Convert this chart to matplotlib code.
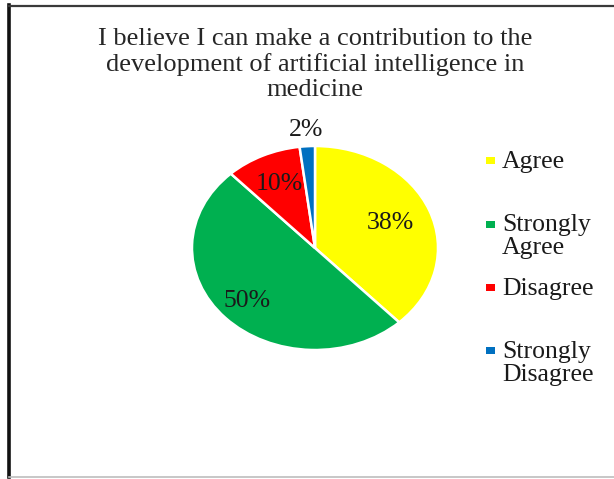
import matplotlib.pyplot as plt
import numpy as np
from matplotlib.lines import Line2D
from matplotlib.patches import Rectangle

# data
labels = ['Agree', 'Strongly\nAgree', 'Disagree', 'Strongly\nDisagree']
shares = [38, 50, 10, 2]
colors = ['#FFFF00', '#00B050', '#FF0000', '#0070C0']
# how far from the centre each percentage label sits (fraction of radius)
label_dist = [0.66, 0.76, 0.69, 1.16]

title = 'I believe I can make a contribution to the\ndevelopment of artificial intelligence in\nmedicine'

W, H = 614, 479
plt.rcParams['font.family'] = ['Liberation Serif', 'DejaVu Serif']
fig = plt.figure(figsize=(W / 100, H / 100), dpi=100)
fig.patch.set_facecolor('white')


def px(x, y):
    # pixel coords (from top-left) -> figure fraction
    return x / W, 1 - y / H


# frame around the chart
fig.add_artist(Line2D([8.5 / W, 8.5 / W], [1 - 5 / H, 1 - 477 / H], color='#111111', lw=2.6, transform=fig.transFigure))
fig.add_artist(Line2D([8.5 / W, 1], [1 - 6 / H, 1 - 6 / H], color='#3a3a3a', lw=1.6, transform=fig.transFigure))
fig.add_artist(Line2D([8.5 / W, 1], [1 - 477 / H, 1 - 477 / H], color='#bdbdbd', lw=1.2, transform=fig.transFigure))

# title
tx, ty = px(315, 28)
fig.text(tx, ty, title, ha='center', va='top', fontsize=19, color='#262626', linespacing=1.18)

# pie (stretched horizontally like the original)
cx, cy, rx, ry = 315, 248, 123, 102
ax = fig.add_axes([(cx - rx) / W, 1 - (cy + ry) / H, 2 * rx / W, 2 * ry / H])
wedges, _ = ax.pie(shares, colors=colors, startangle=90, counterclock=False,
                   wedgeprops=dict(edgecolor='white', linewidth=1.8))
ax.set_aspect('auto')
ax.set_xlim(-1, 1)
ax.set_ylim(-1, 1)
ax.axis('off')

for w, v, d in zip(wedges, shares, label_dist):
    ang = np.deg2rad((w.theta1 + w.theta2) / 2)
    ax.text(d * np.cos(ang), d * np.sin(ang), '%d%%' % v, ha='center', va='center',
            fontsize=18.5, color='#1a1a1a', clip_on=False)

# legend drawn entry by entry (Excel style, marker on first line)
for i, (lab, col) in enumerate(zip(labels, colors)):
    yc = 161 + 63.3 * i
    mx, my = px(486, yc + 3.5)
    fig.add_artist(Rectangle((mx, my), 9 / W, 7 / H, facecolor=col, edgecolor='none',
                             transform=fig.transFigure))
    lx, ly = px(502, yc - 10)
    fig.text(lx, ly, lab, ha='left', va='top', fontsize=18.5, color='#1a1a1a', linespacing=1.07)

fig.savefig('out.png', dpi=100)
